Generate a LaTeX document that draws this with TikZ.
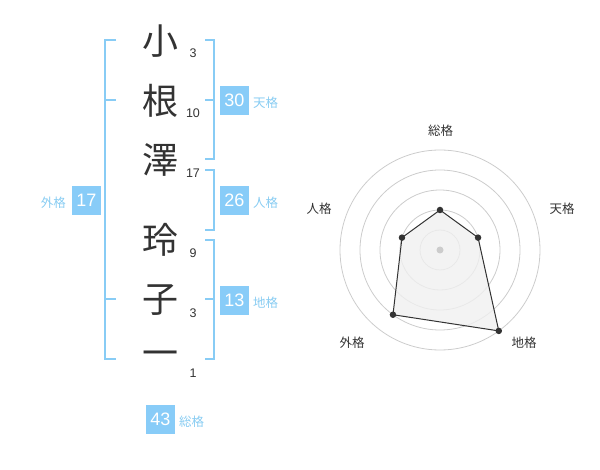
\documentclass[tikz,border=0pt]{standalone}
\usepackage{fontspec}
\usetikzlibrary{calc}
\setmainfont{Liberation Sans}
\newfontfamily\jp{Noto Sans CJK JP}
\definecolor{brk}{HTML}{88CCF5}
\definecolor{boxc}{HTML}{88CCF8}
\definecolor{lbl}{HTML}{88CCF2}
\definecolor{ink}{HTML}{333333}
\definecolor{ring}{HTML}{CCCCCC}
\definecolor{polyfill}{HTML}{F0F0F0}
\begin{document}
\begin{tikzpicture}[x=1pt,y=-1pt,
  kanji/.style={inner sep=0pt,font=\jp\fontsize{36}{36}\selectfont,text=ink},
  strokes/.style={inner sep=0pt,font=\fontsize{12.5}{12.5}\selectfont,text=ink},
  bracket/.style={draw=brk,line width=2pt},
  numbox/.style={fill=boxc,text=white,minimum width=29pt,minimum height=29pt,inner sep=0pt,font=\fontsize{18}{18}\selectfont},
  kaku/.style={inner sep=0pt,font=\jp\fontsize{12.5}{12.5}\selectfont,text=lbl},
  axislbl/.style={inner sep=0pt,font=\jp\fontsize{12.5}{12.5}\selectfont,text=ink},
  dot/.style={circle,fill=ink,inner sep=0pt,minimum size=6.5pt}]
\useasboundingbox (0,0) rectangle (600,470);
% characters
\node[kanji] (c1) at (160,41) {小};
\node[kanji] (c2) at (160,101) {根};
\node[kanji] (c3) at (160,160) {澤};
\node[kanji] (c4) at (160,240) {玲};
\node[kanji] (c5) at (160,300) {子};
\node[kanji] (c6) at (160,359) {一};
\node[strokes] (s1) at (193,53) {3};
\node[strokes] (s2) at (193,113) {10};
\node[strokes] (s3) at (193,173) {17};
\node[strokes] (s4) at (193,253) {9};
\node[strokes] (s5) at (193,313) {3};
\node[strokes] (s6) at (193,373) {1};
% left bracket (外格)
\draw[bracket] (116,40) -- (105,40) -- (105,359) -- (116,359);
\draw[bracket] (105,100) -- (116,100);
\draw[bracket] (105,299) -- (116,299);
% right brackets
\draw[bracket] (205,40) -- (214,40) -- (214,159) -- (205,159);
\draw[bracket] (205,100) -- (214,100);
\draw[bracket] (205,170) -- (214,170) -- (214,230) -- (205,230);
\draw[bracket] (205,240) -- (214,240) -- (214,359) -- (205,359);
\draw[bracket] (205,299) -- (214,299);
% number boxes
\node[numbox] (b30) at (234.5,100.5) {30};
\node[kaku,anchor=west] (k30) at (253,103) {天格};
\node[numbox] (b26) at (234.5,200.5) {26};
\node[kaku,anchor=west] (k26) at (253,203) {人格};
\node[numbox] (b13) at (234.5,300.5) {13};
\node[kaku,anchor=west] (k13) at (253,303) {地格};
\node[numbox] (b17) at (86.5,200.5) {17};
\node[kaku,anchor=east] (k17) at (66,203) {外格};
\node[numbox] (b43) at (160.5,419.5) {43};
\node[kaku,anchor=west] (k43) at (179,422) {総格};
% radar chart
\coordinate (O) at (440,250);
\foreach \r in {20,40,60,80,100} \draw[ring,line width=0.8pt] (O) circle[radius=\r];
\coordinate (p1) at ($(O)+(0,-40)$);
\path (O) ++(-18:40) coordinate (p2);
\path (O) ++(54:100) coordinate (p3);
\path (O) ++(126:80) coordinate (p4);
\path (O) ++(198:40) coordinate (p5);
\filldraw[fill=polyfill,fill opacity=0.8,draw=ink,line width=1pt] (p1) -- (p2) -- (p3) -- (p4) -- (p5) -- cycle;
\node[circle,fill=ring,inner sep=0pt,minimum size=7pt] (cdot) at (O) {};
\foreach \p in {p1,p2,p3,p4,p5} \node[dot] at (\p) {};
\node[axislbl] (a1) at (440.5,130.5) {総格};
\node[axislbl] (a2) at (562,209) {天格};
\node[axislbl] (a3) at (319,209) {人格};
\node[axislbl] (a4) at (352,342.5) {外格};
\node[axislbl] (a5) at (524,342.5) {地格};
\end{tikzpicture}
\end{document}
